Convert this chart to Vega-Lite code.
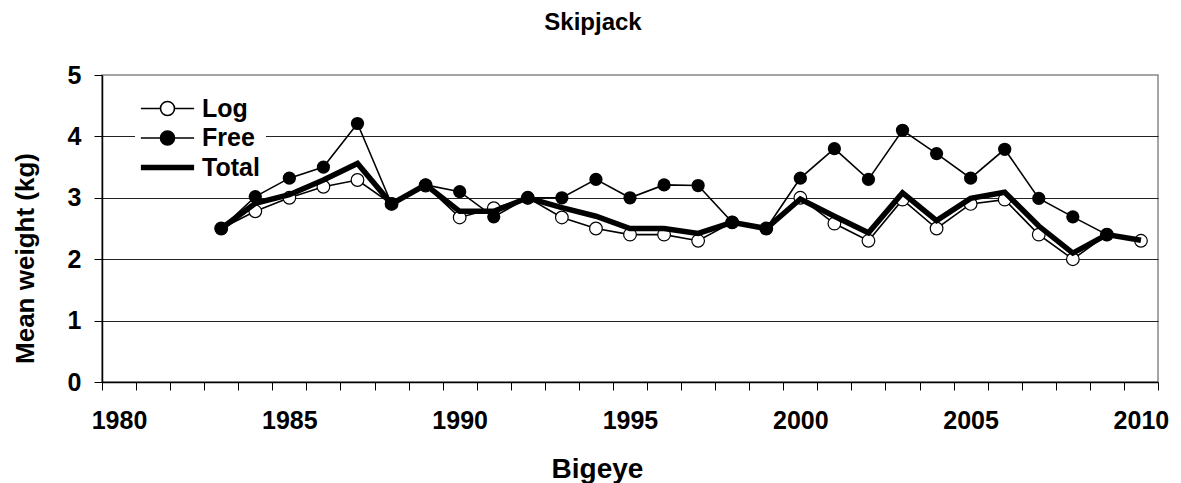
{
  "$schema": "https://vega.github.io/schema/vega-lite/v6.json",
  "autosize": {"type": "none"},
  "width": 1056,
  "height": 307,
  "padding": {"left": 102, "top": 75, "right": 23, "bottom": 101},
  "background": "white",
  "config": {
    "font": "Liberation Sans",
    "view": {"stroke": "#888888", "strokeWidth": 1.5}
  },
  "title": {
    "text": "Skipjack",
    "fontSize": 24,
    "fontWeight": "bold",
    "color": "black",
    "anchor": "middle",
    "dx": -37,
    "baseline": "alphabetic",
    "offset": 9
  },
  "data": {
    "values": [
      {"year": 1983, "series": "Log", "value": 2.5},
      {"year": 1984, "series": "Log", "value": 2.78},
      {"year": 1985, "series": "Log", "value": 3.0},
      {"year": 1986, "series": "Log", "value": 3.18},
      {"year": 1987, "series": "Log", "value": 3.29},
      {"year": 1988, "series": "Log", "value": 2.9},
      {"year": 1989, "series": "Log", "value": 3.2},
      {"year": 1990, "series": "Log", "value": 2.68},
      {"year": 1991, "series": "Log", "value": 2.83},
      {"year": 1992, "series": "Log", "value": 3.0},
      {"year": 1993, "series": "Log", "value": 2.68},
      {"year": 1994, "series": "Log", "value": 2.5},
      {"year": 1995, "series": "Log", "value": 2.4},
      {"year": 1996, "series": "Log", "value": 2.4},
      {"year": 1997, "series": "Log", "value": 2.3},
      {"year": 1998, "series": "Log", "value": 2.6},
      {"year": 1999, "series": "Log", "value": 2.5},
      {"year": 2000, "series": "Log", "value": 3.0},
      {"year": 2001, "series": "Log", "value": 2.58},
      {"year": 2002, "series": "Log", "value": 2.3},
      {"year": 2003, "series": "Log", "value": 2.97},
      {"year": 2004, "series": "Log", "value": 2.5},
      {"year": 2005, "series": "Log", "value": 2.9},
      {"year": 2006, "series": "Log", "value": 2.97},
      {"year": 2007, "series": "Log", "value": 2.4},
      {"year": 2008, "series": "Log", "value": 2.0},
      {"year": 2009, "series": "Log", "value": 2.4},
      {"year": 2010, "series": "Log", "value": 2.3},
      {"year": 1983, "series": "Free", "value": 2.5},
      {"year": 1984, "series": "Free", "value": 3.02},
      {"year": 1985, "series": "Free", "value": 3.32},
      {"year": 1986, "series": "Free", "value": 3.5},
      {"year": 1987, "series": "Free", "value": 4.21},
      {"year": 1988, "series": "Free", "value": 2.9},
      {"year": 1989, "series": "Free", "value": 3.21},
      {"year": 1990, "series": "Free", "value": 3.1},
      {"year": 1991, "series": "Free", "value": 2.69},
      {"year": 1992, "series": "Free", "value": 3.0},
      {"year": 1993, "series": "Free", "value": 3.0},
      {"year": 1994, "series": "Free", "value": 3.3},
      {"year": 1995, "series": "Free", "value": 3.0},
      {"year": 1996, "series": "Free", "value": 3.21},
      {"year": 1997, "series": "Free", "value": 3.2},
      {"year": 1998, "series": "Free", "value": 2.6},
      {"year": 1999, "series": "Free", "value": 2.5},
      {"year": 2000, "series": "Free", "value": 3.32},
      {"year": 2001, "series": "Free", "value": 3.8},
      {"year": 2002, "series": "Free", "value": 3.3},
      {"year": 2003, "series": "Free", "value": 4.1},
      {"year": 2004, "series": "Free", "value": 3.72},
      {"year": 2005, "series": "Free", "value": 3.32},
      {"year": 2006, "series": "Free", "value": 3.79},
      {"year": 2007, "series": "Free", "value": 2.99},
      {"year": 2008, "series": "Free", "value": 2.69},
      {"year": 2009, "series": "Free", "value": 2.4},
      {"year": 1983, "series": "Total", "value": 2.5},
      {"year": 1984, "series": "Total", "value": 2.91},
      {"year": 1985, "series": "Total", "value": 3.05},
      {"year": 1986, "series": "Total", "value": 3.29},
      {"year": 1987, "series": "Total", "value": 3.56},
      {"year": 1988, "series": "Total", "value": 2.9},
      {"year": 1989, "series": "Total", "value": 3.21},
      {"year": 1990, "series": "Total", "value": 2.78},
      {"year": 1991, "series": "Total", "value": 2.78},
      {"year": 1992, "series": "Total", "value": 3.0},
      {"year": 1993, "series": "Total", "value": 2.84},
      {"year": 1994, "series": "Total", "value": 2.7},
      {"year": 1995, "series": "Total", "value": 2.5},
      {"year": 1996, "series": "Total", "value": 2.5},
      {"year": 1997, "series": "Total", "value": 2.42},
      {"year": 1998, "series": "Total", "value": 2.6},
      {"year": 1999, "series": "Total", "value": 2.5},
      {"year": 2000, "series": "Total", "value": 2.98},
      {"year": 2001, "series": "Total", "value": 2.7},
      {"year": 2002, "series": "Total", "value": 2.43},
      {"year": 2003, "series": "Total", "value": 3.08},
      {"year": 2004, "series": "Total", "value": 2.63},
      {"year": 2005, "series": "Total", "value": 2.99},
      {"year": 2006, "series": "Total", "value": 3.09},
      {"year": 2007, "series": "Total", "value": 2.54},
      {"year": 2008, "series": "Total", "value": 2.1},
      {"year": 2009, "series": "Total", "value": 2.4},
      {"year": 2010, "series": "Total", "value": 2.31}
    ]
  },
  "encoding": {
    "x": {
      "field": "year",
      "type": "quantitative",
      "scale": {"domain": [1979.5, 2010.5], "nice": false, "zero": false},
      "axis": {
        "values": [1979.5, 1980.5, 1981.5, 1982.5, 1983.5, 1984.5, 1985.5, 1986.5, 1987.5, 1988.5, 1989.5, 1990.5, 1991.5, 1992.5, 1993.5, 1994.5, 1995.5, 1996.5, 1997.5, 1998.5, 1999.5, 2000.5, 2001.5, 2002.5, 2003.5, 2004.5, 2005.5, 2006.5, 2007.5, 2008.5, 2009.5, 2010.5],
        "labelExpr": "(datum.value - 1979.5) % 5 == 0 ? toString(datum.value + 0.5) : ''",
        "labelOffset": 17,
        "labelOverlap": false,
        "labelBound": false,
        "labelFlush": false,
        "labelFontSize": 25,
        "labelFontWeight": "bold",
        "labelColor": "black",
        "labelPadding": 18,
        "tickSize": 8,
        "tickColor": "black",
        "tickWidth": 1,
        "domainColor": "black",
        "domainWidth": 1.5,
        "grid": false,
        "title": "Bigeye",
        "titleFontSize": 28,
        "titleFontWeight": "bold",
        "titleColor": "black",
        "titleX": 495,
        "titleY": 95,
        "titleBaseline": "alphabetic"
      }
    },
    "y": {
      "field": "value",
      "type": "quantitative",
      "scale": {"domain": [0, 5], "nice": false},
      "axis": {
        "values": [0, 1, 2, 3, 4, 5],
        "format": "d",
        "labelFontSize": 25,
        "labelFontWeight": "bold",
        "labelColor": "black",
        "labelPadding": 13,
        "tickSize": 8,
        "tickColor": "black",
        "domainColor": "black",
        "domainWidth": 1.5,
        "grid": true,
        "gridColor": {"condition": {"test": "datum.value === 0 || datum.value === 5", "value": "rgba(0,0,0,0)"}, "value": "#222222"},
        "gridWidth": 1.2,
        "title": "Mean weight (kg)",
        "titleFontSize": 26,
        "titleFontWeight": "bold",
        "titleColor": "black",
        "titlePadding": 29,
        "titleY": 183
      }
    }
  },
  "layer": [
    {
      "transform": [{"filter": "datum.series != 'Total'"}],
      "mark": {"type": "line", "strokeWidth": 1.6},
      "encoding": {
        "color": {
          "field": "series",
          "type": "nominal",
          "scale": {"domain": ["Log", "Free", "Total"], "range": ["black", "black", "black"]},
          "legend": {
            "title": null,
            "orient": "none",
            "legendX": 33,
            "legendY": 15,
            "fillColor": "white",
            "padding": 6,
            "symbolSize": 784,
            "symbolOffset": 14,
            "labelOffset": 22,
            "rowPadding": 3.5,
            "labelFontSize": 25,
            "labelFontWeight": "bold",
            "labelColor": "black",
            "labelBaseline": "middle",
            "encode": {
              "symbols": {
                "update": {
                  "shape": {"signal": "datum.value == 'Total' ? 'M -1.9 0 L 1.9 0' : 'M -1.9 0 L -0.5 0 M 0.5 0 L 1.9 0 M -0.5 0 A 0.5 0.5 0 1 1 0.5 0 A 0.5 0.5 0 1 1 -0.5 0 Z'"},
                  "fill": {"signal": "datum.value == 'Free' ? 'black' : (datum.value == 'Log' ? 'white' : 'transparent')"},
                  "stroke": {"value": "black"},
                  "strokeWidth": {"signal": "datum.value == 'Total' ? 5.5 : 1.6"},
                  "opacity": {"value": 1},
                  "fillOpacity": {"value": 1},
                  "strokeOpacity": {"value": 1}
                }
              }
            }
          }
        }
      }
    },
    {
      "transform": [{"filter": "datum.series == 'Log'"}],
      "mark": {"type": "point", "shape": "circle", "filled": true, "fill": "white", "stroke": "black", "strokeWidth": 1.2, "size": 160, "opacity": 1}
    },
    {
      "transform": [{"filter": "datum.series == 'Free'"}],
      "mark": {"type": "circle", "color": "black", "size": 175, "opacity": 1}
    },
    {
      "transform": [{"filter": "datum.series == 'Total'"}],
      "mark": {"type": "line", "color": "black", "strokeWidth": 5.5}
    }
  ]
}
